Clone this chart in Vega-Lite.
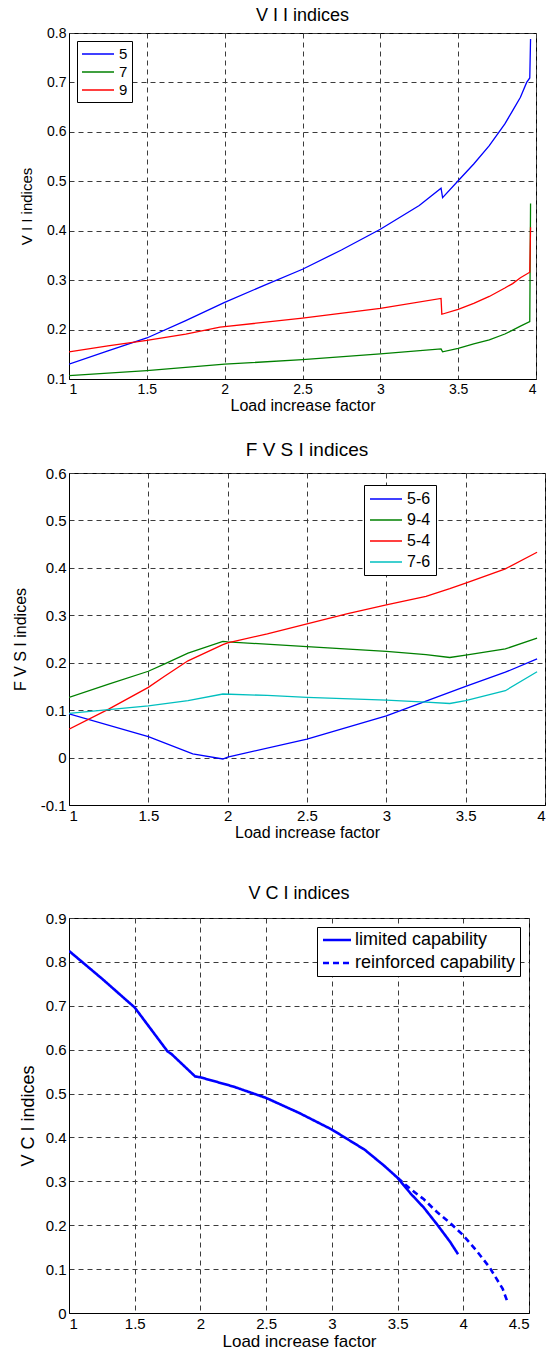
{
  "$schema": "https://vega.github.io/schema/vega-lite/v6.json",
  "padding": {"left": 11, "top": 6, "right": 5, "bottom": 3},
  "background": "white",
  "config": {
    "font": "Liberation Sans",
    "view": {"stroke": "black", "strokeWidth": 1},
    "axis": {"grid": true, "gridColor": "#3c3c3c", "gridDash": [5, 4], "gridOpacity": 1, "gridWidth": 1, "domainColor": "black", "ticks": false, "labelColor": "black", "titleColor": "black", "titleFontWeight": "normal", "labelPadding": 3, "labelFont": "Liberation Sans", "titleFont": "Liberation Sans"},
    "title": {"fontWeight": "normal", "color": "black", "font": "Liberation Sans"},
    "legend": {"title": null, "strokeColor": "black", "fillColor": "white", "cornerRadius": 0, "labelColor": "black", "labelFont": "Liberation Sans", "labelLimit": 400, "symbolType": "M-1,0H3"}
  },
  "resolve": {"scale": {"color": "independent", "strokeDash": "independent"}, "legend": {"color": "independent", "strokeDash": "independent"}},
  "spacing": 43,
  "vconcat": [
    {
      "spacing": 26,
      "resolve": {"scale": {"color": "independent"}, "legend": {"color": "independent"}},
      "vconcat": [
        {
          "width": 467,
          "height": 346,
          "title": {"text": "V I I indices", "fontSize": 18, "offset": 1},
          "data": {"values": [
            {"series": "5", "x": 1, "y": 0.130}, {"series": "5", "x": 1.25, "y": 0.157}, {"series": "5", "x": 1.5, "y": 0.183}, {"series": "5", "x": 1.75, "y": 0.218}, {"series": "5", "x": 2, "y": 0.255}, {"series": "5", "x": 2.25, "y": 0.289}, {"series": "5", "x": 2.5, "y": 0.322}, {"series": "5", "x": 2.75, "y": 0.361}, {"series": "5", "x": 3, "y": 0.403}, {"series": "5", "x": 3.25, "y": 0.451}, {"series": "5", "x": 3.39, "y": 0.486}, {"series": "5", "x": 3.4, "y": 0.467}, {"series": "5", "x": 3.5, "y": 0.501}, {"series": "5", "x": 3.6, "y": 0.535}, {"series": "5", "x": 3.7, "y": 0.572}, {"series": "5", "x": 3.8, "y": 0.616}, {"series": "5", "x": 3.85, "y": 0.643}, {"series": "5", "x": 3.9, "y": 0.670}, {"series": "5", "x": 3.94, "y": 0.700}, {"series": "5", "x": 3.96, "y": 0.709}, {"series": "5", "x": 3.965, "y": 0.788},
            {"series": "7", "x": 1, "y": 0.107}, {"series": "7", "x": 1.5, "y": 0.117}, {"series": "7", "x": 2, "y": 0.130}, {"series": "7", "x": 2.5, "y": 0.139}, {"series": "7", "x": 3, "y": 0.151}, {"series": "7", "x": 3.39, "y": 0.161}, {"series": "7", "x": 3.4, "y": 0.155}, {"series": "7", "x": 3.5, "y": 0.162}, {"series": "7", "x": 3.6, "y": 0.171}, {"series": "7", "x": 3.7, "y": 0.179}, {"series": "7", "x": 3.8, "y": 0.191}, {"series": "7", "x": 3.9, "y": 0.207}, {"series": "7", "x": 3.96, "y": 0.216}, {"series": "7", "x": 3.965, "y": 0.455},
            {"series": "9", "x": 1, "y": 0.155}, {"series": "9", "x": 1.25, "y": 0.167}, {"series": "9", "x": 1.5, "y": 0.178}, {"series": "9", "x": 1.75, "y": 0.191}, {"series": "9", "x": 1.97, "y": 0.205}, {"series": "9", "x": 2, "y": 0.206}, {"series": "9", "x": 2.5, "y": 0.223}, {"series": "9", "x": 3, "y": 0.243}, {"series": "9", "x": 3.39, "y": 0.263}, {"series": "9", "x": 3.395, "y": 0.231}, {"series": "9", "x": 3.5, "y": 0.241}, {"series": "9", "x": 3.6, "y": 0.253}, {"series": "9", "x": 3.7, "y": 0.267}, {"series": "9", "x": 3.8, "y": 0.284}, {"series": "9", "x": 3.85, "y": 0.293}, {"series": "9", "x": 3.9, "y": 0.305}, {"series": "9", "x": 3.96, "y": 0.316}, {"series": "9", "x": 3.965, "y": 0.407}
          ]},
          "mark": {"type": "line", "strokeWidth": 1.3, "clip": true},
          "encoding": {
            "x": {"field": "x", "type": "quantitative", "scale": {"domain": [1, 4], "nice": false, "zero": false}, "axis": {"values": [1, 1.5, 2, 2.5, 3, 3.5, 4], "format": "~g", "title": "Load increase factor", "labelFontSize": 14, "titleFontSize": 16, "titlePadding": 1}},
            "y": {"field": "y", "type": "quantitative", "scale": {"domain": [0.1, 0.8], "nice": false, "zero": false}, "axis": {"values": [0.1, 0.2, 0.3, 0.4, 0.5, 0.6, 0.7, 0.8], "format": "~g", "title": "V I I indices", "labelFontSize": 14, "titleFontSize": 15, "titlePadding": 12}},
            "color": {"field": "series", "type": "nominal", "scale": {"domain": ["5", "7", "9"], "range": ["#0000FF", "#008000", "#FF0000"]}, "legend": {"orient": "top-left", "offset": 8, "padding": 4, "labelFontSize": 15, "symbolSize": 256, "symbolStrokeWidth": 1.5, "rowPadding": 1, "labelOffset": 20}}
          }
        },
        {
          "width": 476,
          "height": 332,
          "title": {"text": "F V S I indices", "fontSize": 19, "offset": 6},
          "data": {"values": [
            {"series": "5-6", "x": 1, "y": 0.092}, {"series": "5-6", "x": 1.5, "y": 0.044}, {"series": "5-6", "x": 1.78, "y": 0.008}, {"series": "5-6", "x": 1.97, "y": -0.003}, {"series": "5-6", "x": 2, "y": 0.001}, {"series": "5-6", "x": 2.5, "y": 0.039}, {"series": "5-6", "x": 3, "y": 0.088}, {"series": "5-6", "x": 3.25, "y": 0.119}, {"series": "5-6", "x": 3.5, "y": 0.150}, {"series": "5-6", "x": 3.75, "y": 0.180}, {"series": "5-6", "x": 3.95, "y": 0.208},
            {"series": "9-4", "x": 1, "y": 0.127}, {"series": "9-4", "x": 1.25, "y": 0.155}, {"series": "9-4", "x": 1.5, "y": 0.182}, {"series": "9-4", "x": 1.6, "y": 0.197}, {"series": "9-4", "x": 1.75, "y": 0.220}, {"series": "9-4", "x": 1.97, "y": 0.245}, {"series": "9-4", "x": 2, "y": 0.244}, {"series": "9-4", "x": 2.5, "y": 0.234}, {"series": "9-4", "x": 3, "y": 0.224}, {"series": "9-4", "x": 3.25, "y": 0.217}, {"series": "9-4", "x": 3.4, "y": 0.211}, {"series": "9-4", "x": 3.5, "y": 0.216}, {"series": "9-4", "x": 3.75, "y": 0.229}, {"series": "9-4", "x": 3.95, "y": 0.252},
            {"series": "5-4", "x": 1, "y": 0.060}, {"series": "5-4", "x": 1.25, "y": 0.102}, {"series": "5-4", "x": 1.5, "y": 0.148}, {"series": "5-4", "x": 1.6, "y": 0.171}, {"series": "5-4", "x": 1.75, "y": 0.204}, {"series": "5-4", "x": 1.97, "y": 0.238}, {"series": "5-4", "x": 2, "y": 0.242}, {"series": "5-4", "x": 2.25, "y": 0.261}, {"series": "5-4", "x": 2.5, "y": 0.282}, {"series": "5-4", "x": 2.75, "y": 0.303}, {"series": "5-4", "x": 3, "y": 0.322}, {"series": "5-4", "x": 3.25, "y": 0.340}, {"series": "5-4", "x": 3.4, "y": 0.356}, {"series": "5-4", "x": 3.5, "y": 0.368}, {"series": "5-4", "x": 3.75, "y": 0.398}, {"series": "5-4", "x": 3.95, "y": 0.433},
            {"series": "7-6", "x": 1, "y": 0.093}, {"series": "7-6", "x": 1.5, "y": 0.109}, {"series": "7-6", "x": 1.75, "y": 0.120}, {"series": "7-6", "x": 1.97, "y": 0.134}, {"series": "7-6", "x": 2.25, "y": 0.131}, {"series": "7-6", "x": 2.5, "y": 0.127}, {"series": "7-6", "x": 3, "y": 0.121}, {"series": "7-6", "x": 3.25, "y": 0.117}, {"series": "7-6", "x": 3.4, "y": 0.114}, {"series": "7-6", "x": 3.5, "y": 0.120}, {"series": "7-6", "x": 3.75, "y": 0.141}, {"series": "7-6", "x": 3.95, "y": 0.181}
          ]},
          "mark": {"type": "line", "strokeWidth": 1.3, "clip": true},
          "encoding": {
            "x": {"field": "x", "type": "quantitative", "scale": {"domain": [1, 4], "nice": false, "zero": false}, "axis": {"values": [1, 1.5, 2, 2.5, 3, 3.5, 4], "format": "~g", "title": "Load increase factor", "labelFontSize": 15, "titleFontSize": 16, "titlePadding": 1}},
            "y": {"field": "y", "type": "quantitative", "scale": {"domain": [-0.1, 0.6], "nice": false, "zero": false}, "axis": {"values": [-0.1, 0, 0.1, 0.2, 0.3, 0.4, 0.5, 0.6], "labelExpr": "datum.value < 0 ? '-' + format(-datum.value, '~g') : format(datum.value, '~g')", "title": "F V S I indices", "labelFontSize": 15, "titleFontSize": 16, "titlePadding": 12}},
            "color": {"field": "series", "type": "nominal", "scale": {"domain": ["5-6", "9-4", "5-4", "7-6"], "range": ["#0000FF", "#008000", "#FF0000", "#00BFBF"]}, "legend": {"orient": "none", "legendX": 295, "legendY": 12, "padding": 5, "labelFontSize": 16, "symbolSize": 256, "symbolStrokeWidth": 1.5, "rowPadding": 4, "labelOffset": 20}}
          }
        }
      ]
    },
    {
      "width": 460,
      "height": 395,
      "title": {"text": "V C I indices", "fontSize": 18, "offset": 8},
      "data": {"values": [
        {"series": "limited capability", "x": 1, "y": 0.825}, {"series": "limited capability", "x": 1.25, "y": 0.762}, {"series": "limited capability", "x": 1.5, "y": 0.696}, {"series": "limited capability", "x": 1.75, "y": 0.596}, {"series": "limited capability", "x": 1.78, "y": 0.590}, {"series": "limited capability", "x": 1.96, "y": 0.539}, {"series": "limited capability", "x": 2, "y": 0.537}, {"series": "limited capability", "x": 2.25, "y": 0.516}, {"series": "limited capability", "x": 2.5, "y": 0.490}, {"series": "limited capability", "x": 2.75, "y": 0.456}, {"series": "limited capability", "x": 3, "y": 0.418}, {"series": "limited capability", "x": 3.25, "y": 0.372}, {"series": "limited capability", "x": 3.4, "y": 0.335}, {"series": "limited capability", "x": 3.5, "y": 0.308}, {"series": "limited capability", "x": 3.6, "y": 0.272}, {"series": "limited capability", "x": 3.7, "y": 0.240}, {"series": "limited capability", "x": 3.8, "y": 0.202}, {"series": "limited capability", "x": 3.9, "y": 0.162}, {"series": "limited capability", "x": 3.96, "y": 0.134},
        {"series": "reinforced capability", "x": 3.5, "y": 0.308}, {"series": "reinforced capability", "x": 3.6, "y": 0.282}, {"series": "reinforced capability", "x": 3.7, "y": 0.259}, {"series": "reinforced capability", "x": 3.8, "y": 0.230}, {"series": "reinforced capability", "x": 3.9, "y": 0.205}, {"series": "reinforced capability", "x": 4, "y": 0.177}, {"series": "reinforced capability", "x": 4.1, "y": 0.142}, {"series": "reinforced capability", "x": 4.2, "y": 0.104}, {"series": "reinforced capability", "x": 4.3, "y": 0.055}, {"series": "reinforced capability", "x": 4.34, "y": 0.022}
      ]},
      "mark": {"type": "line", "strokeWidth": 2.6, "color": "#0000FF", "clip": true},
      "encoding": {
        "x": {"field": "x", "type": "quantitative", "scale": {"domain": [1, 4.5], "nice": false, "zero": false}, "axis": {"values": [1, 1.5, 2, 2.5, 3, 3.5, 4, 4.5], "format": "~g", "title": "Load increase factor", "labelFontSize": 15, "titleFontSize": 17, "titlePadding": 2}},
        "y": {"field": "y", "type": "quantitative", "scale": {"domain": [0, 0.9], "nice": false, "zero": false}, "axis": {"values": [0, 0.1, 0.2, 0.3, 0.4, 0.5, 0.6, 0.7, 0.8, 0.9], "format": "~g", "title": "V C I indices", "labelFontSize": 15, "titleFontSize": 18, "titlePadding": 8}},
        "strokeDash": {"field": "series", "type": "nominal", "scale": {"domain": ["limited capability", "reinforced capability"], "range": [[1, 0], [6, 4]]}, "legend": {"orient": "top-right", "offset": 9, "padding": 4, "labelFontSize": 18, "symbolSize": 196, "symbolStrokeWidth": 2.6, "symbolStrokeColor": "#0000FF", "rowPadding": 5, "labelOffset": 16}}
      }
    }
  ]
}
